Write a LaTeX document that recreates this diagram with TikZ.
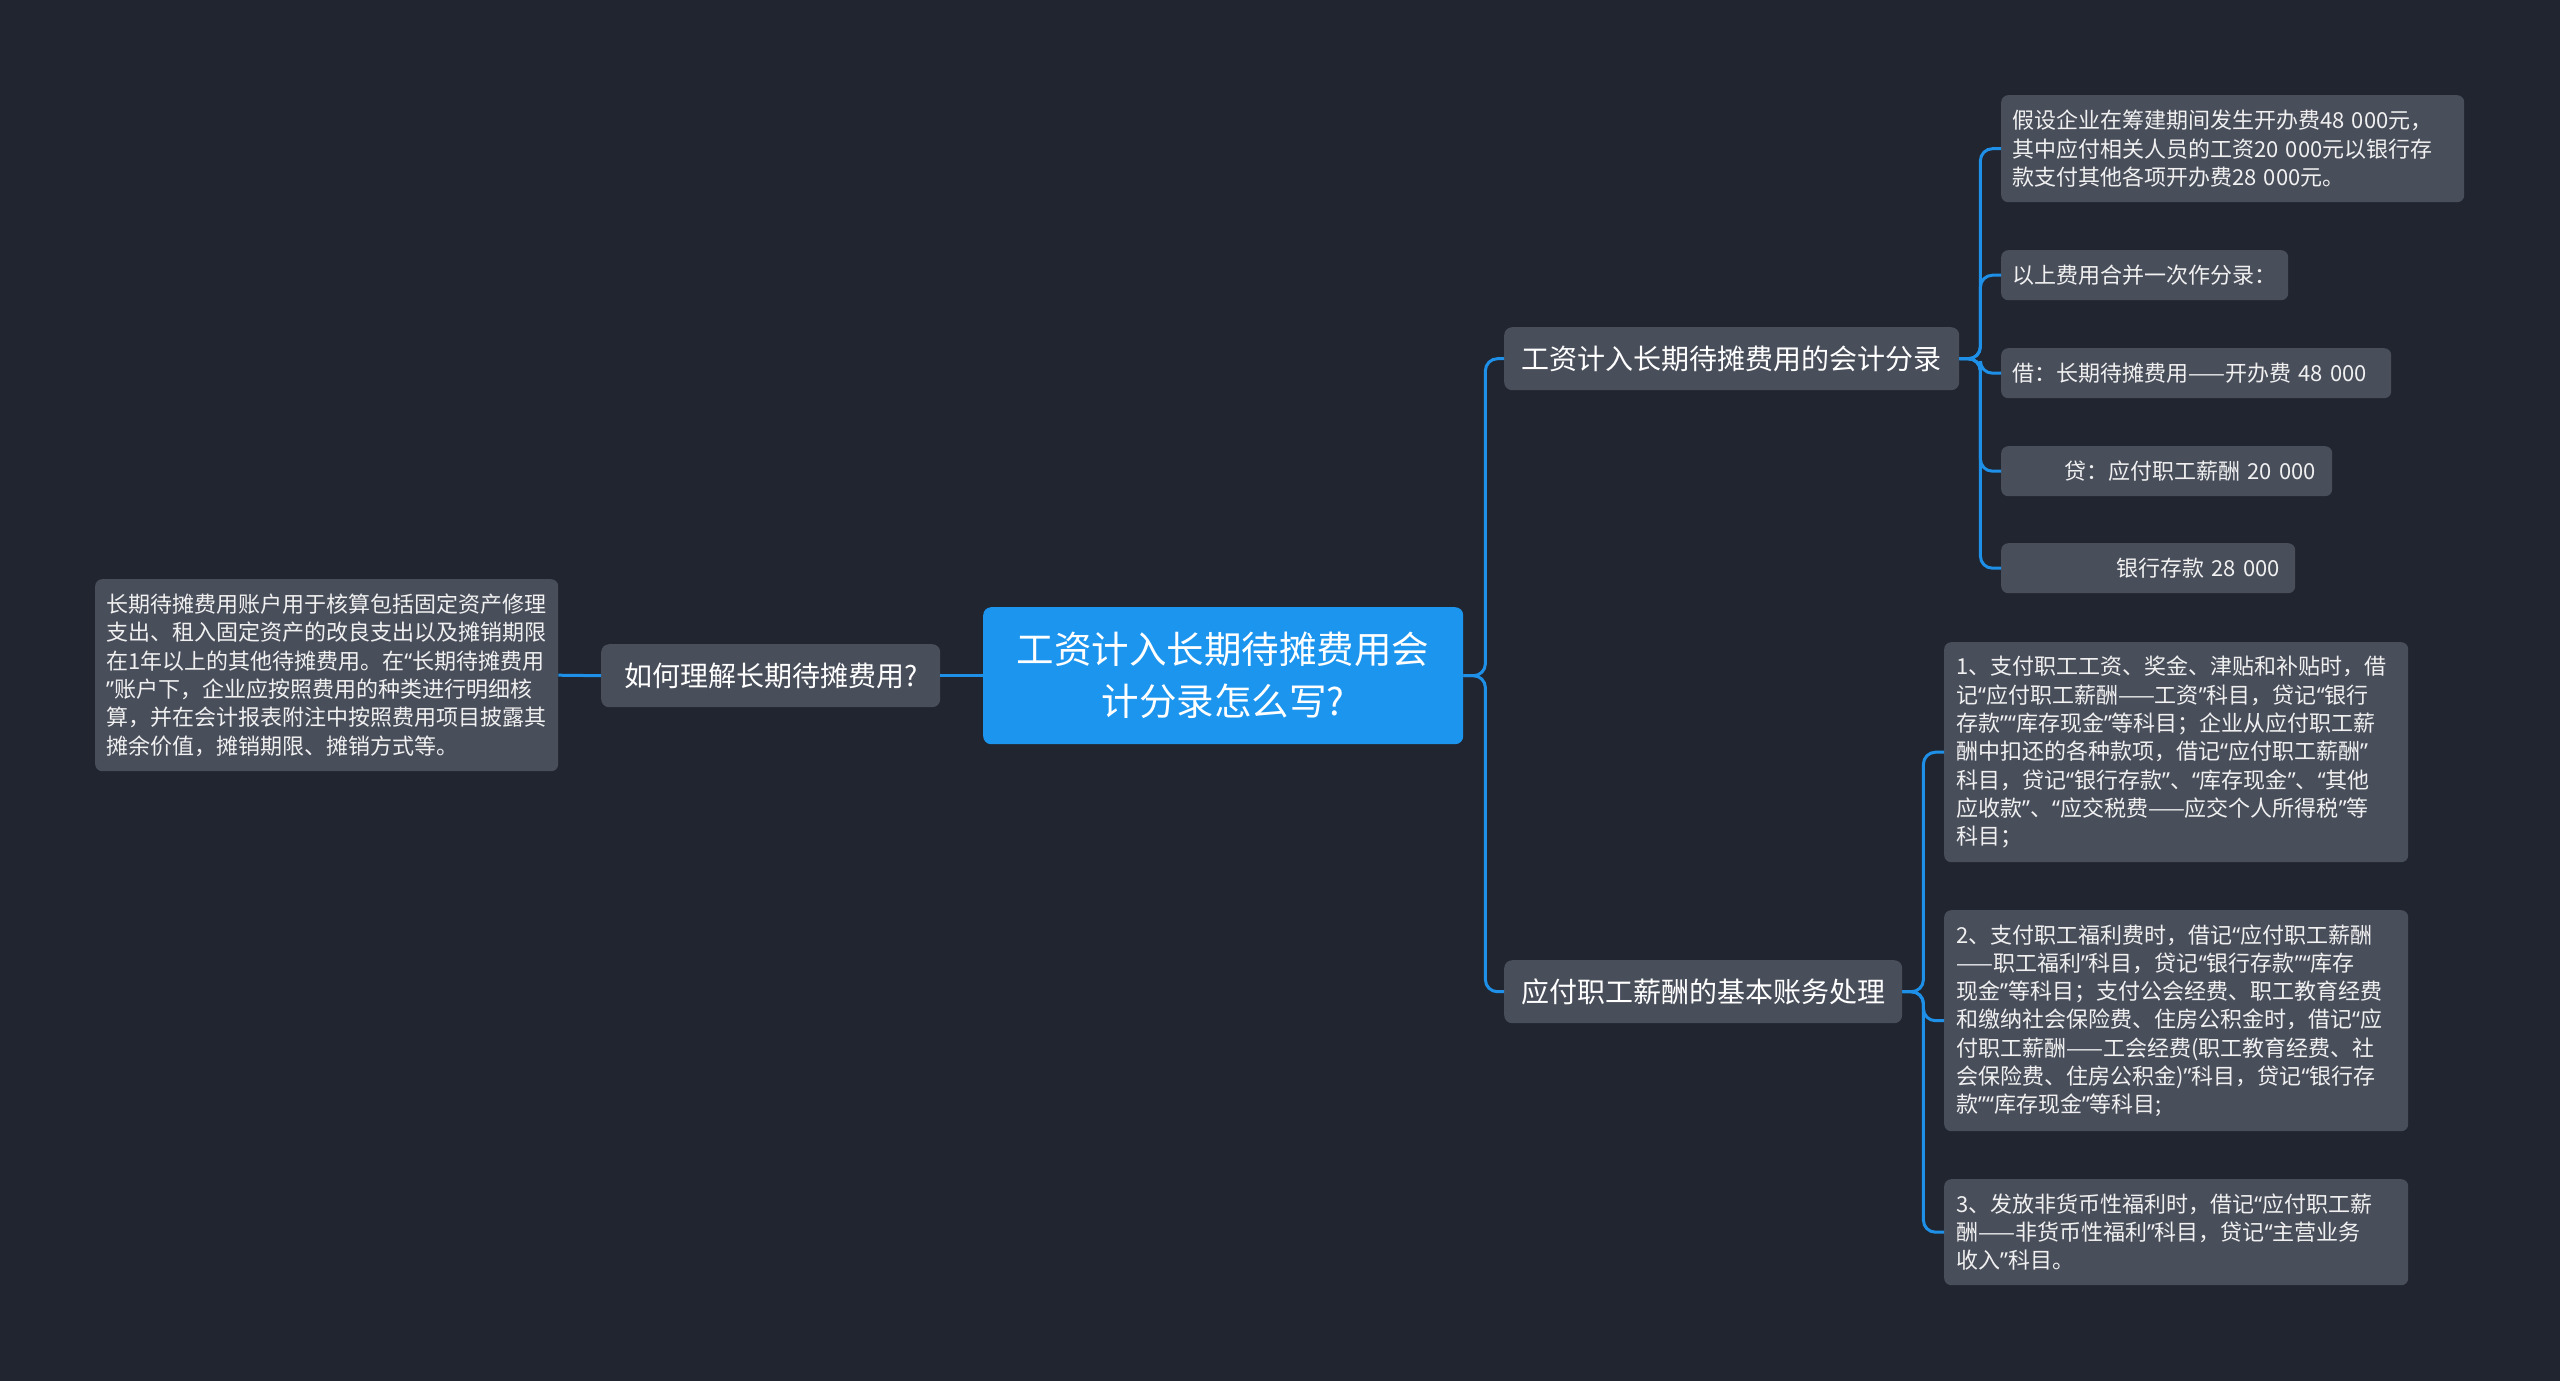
\documentclass[tikz,border=0pt]{standalone}
\usepackage{fontspec}
\usepackage{xcolor}
\usepackage{tikz}
\setmainfont{Noto Sans CJK SC}
\newfontfamily\quotefont{Noto Sans}
\definecolor{bgdark}{RGB}{33, 37, 48}
\definecolor{leafgray}{RGB}{73, 78, 91}
\definecolor{rootblue}{RGB}{27, 149, 238}
\definecolor{linkblue}{RGB}{30, 144, 232}
\definecolor{textwhite}{RGB}{240, 240, 240}

% narrow western quotes inside the Chinese text
\begingroup
\catcode`“=\active \catcode`”=\active
\gdef“{{\quotefont\symbol{"201C}}}
\gdef”{{\quotefont\symbol{"201D}}}
\endgroup
\AtBeginDocument{\catcode`“=\active \catcode`”=\active}

\begin{document}
\begin{tikzpicture}[x=1pt, y=-1pt,
    rootnode/.style={fill=rootblue, rounded corners=8pt, anchor=north west, text=white,
        font=\fontsize{37.5}{52}\selectfont, align=center, inner sep=0pt},
    branch/.style={fill=leafgray, rounded corners=8pt, anchor=north west, text=white,
        font=\fontsize{28}{34}\selectfont, inner sep=0pt, minimum height=63pt},
    leaf/.style={fill=leafgray, rounded corners=7pt, anchor=north west, text=textwhite,
        font=\fontsize{22}{28.3}\selectfont, align=left, inner xsep=11pt, inner ysep=0pt,
        minimum height=50pt},
    link/.style={draw=linkblue, line width=3pt, rounded corners=12pt}]

    \fill[bgdark] (0,0) rectangle (2560,1381);

    % centre
    \node[rootnode, minimum width=480pt, minimum height=137pt] (root) at (983,607)
        {工资计入长期待摊费用会\\计分录怎么写?};

    % left side
    \node[branch, minimum width=339pt] (why) at (601,644) {如何理解长期待摊费用?};
    \node[leaf, text width=441pt, minimum height=192pt] (whyleaf) at (95,579)
        {长期待摊费用账户用于核算包括固定资产修理\\支出、租入固定资产的改良支出以及摊销期限\\在1年以上的其他待摊费用。在“长期待摊费用\\”账户下，企业应按照费用的种类进行明细核\\算，并在会计报表附注中按照费用项目披露其\\摊余价值，摊销期限、摊销方式等。};

    % right side, first branch
    \node[branch, minimum width=455pt] (entry) at (1504,327) {工资计入长期待摊费用的会计分录};
    \node[leaf, text width=441pt, minimum height=107pt] (e1) at (2001,95)
        {假设企业在筹建期间发生开办费48 000元，\\其中应付相关人员的工资20 000元以银行存\\款支付其他各项开办费28 000元。};
    \node[leaf, text width=265pt] (e2) at (2001,250) {以上费用合并一次作分录：};
    \node[leaf, text width=368pt] (e3) at (2001,348) {借：长期待摊费用——开办费 48 000};
    \node[leaf, text width=309pt] (e4) at (2001,446) {\hspace*{52pt}贷：应付职工薪酬 20 000};
    \node[leaf, text width=272pt] (e5) at (2001,543) {\hspace*{104pt}银行存款 28 000};

    % right side, second branch
    \node[branch, minimum width=398pt] (basic) at (1504,960) {应付职工薪酬的基本账务处理};
    \node[leaf, text width=440pt, inner xsep=12pt, minimum height=220pt] (b1) at (1944,642)
        {1、支付职工工资、奖金、津贴和补贴时，借\\记“应付职工薪酬——工资”科目，贷记“银行\\存款”“库存现金”等科目；企业从应付职工薪\\酬中扣还的各种款项，借记“应付职工薪酬”\\科目，贷记“银行存款”、“库存现金”、“其他\\应收款”、“应交税费——应交个人所得税”等\\科目；};
    \node[leaf, text width=440pt, inner xsep=12pt, minimum height=221pt] (b2) at (1944,910)
        {2、支付职工福利费时，借记“应付职工薪酬\\——职工福利”科目，贷记“银行存款”“库存\\现金”等科目；支付公会经费、职工教育经费\\和缴纳社会保险费、住房公积金时，借记“应\\付职工薪酬——工会经费(职工教育经费、社\\会保险费、住房公积金)”科目，贷记“银行存\\款”“库存现金”等科目;};
    \node[leaf, text width=440pt, inner xsep=12pt, minimum height=106pt] (b3) at (1944,1179)
        {3、发放非货币性福利时，借记“应付职工薪\\酬——非货币性福利”科目，贷记“主营业务\\收入”科目。};

    % connectors
    \draw[link] (root.west) -- (why.east);
    \draw[link] (why.west) -- (whyleaf.east);
    \draw[link] (root.east) -- ++(22,0) |- (entry.west);
    \draw[link] (root.east) -- ++(22,0) |- (basic.west);
    \foreach \i in {1,...,5}
        \draw[link] (entry.east) -- ++(21,0) |- (e\i.west);
    \foreach \i in {1,2,3}
        \draw[link] (basic.east) -- ++(21,0) |- (b\i.west);
\end{tikzpicture}
\end{document}
